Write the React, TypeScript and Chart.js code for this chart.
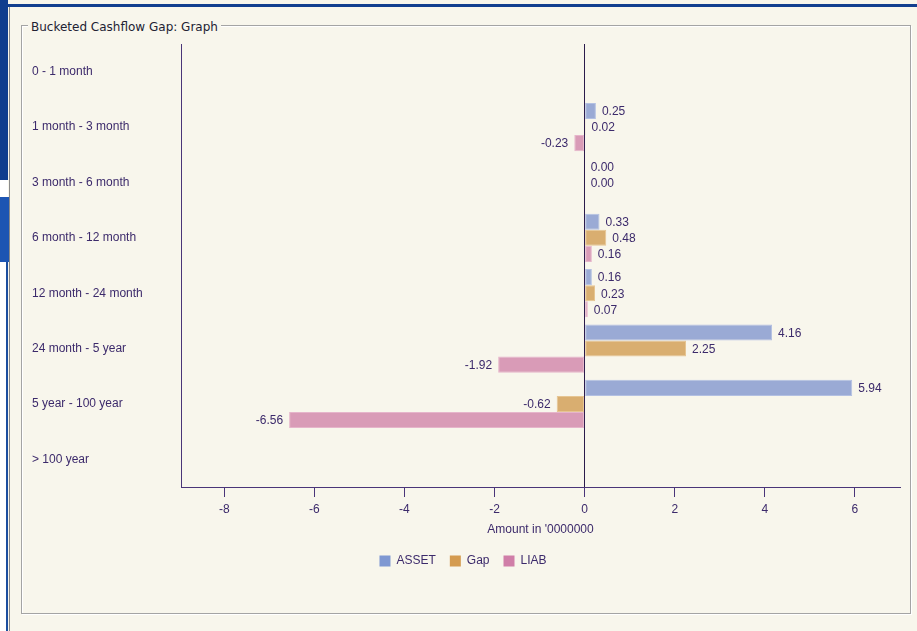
import React, { useEffect, useRef } from 'react';
import { Chart, registerables } from 'chart.js';

Chart.register(...registerables);

const categories = [
  '0 - 1 month',
  '1 month - 3 month',
  '3 month - 6 month',
  '6 month - 12 month',
  '12 month - 24 month',
  '24 month - 5 year',
  '5 year - 100 year',
  '> 100 year',
];
const assetValues: (number | null)[] = [null, 0.25, 0.0, 0.33, 0.16, 4.16, 5.94, null];
const gapValues: (number | null)[] = [null, 0.02, 0.0, 0.48, 0.23, 2.25, -0.62, null];
const liabValues: (number | null)[] = [null, -0.23, null, 0.16, 0.07, -1.92, -6.56, null];
const seriesNames = ['ASSET', 'Gap', 'LIAB'];
const xTickValues = [-8, -6, -4, -2, 0, 2, 4, 6];
const xAxisTitle = "Amount in '0000000";
const panelTitle = 'Bucketed Cashflow Gap: Graph';

const TEXT = '#3c2a6b';
const AXIS = '#4a3578';
const BAR_FILL = ['#9aaad5', '#d9ae70', '#d99bb7'];
const BAR_EDGE = ['#b3c0e2', '#e6c592', '#e6b5cb'];
const LEGEND_FILL = ['#7f98d2', '#d49b50', '#d07ea8'];
const FONT = '"Liberation Sans", Arial, sans-serif';

const valueLabels = {
  id: 'valueLabels',
  afterDatasetsDraw(chart: any) {
    const ctx = chart.ctx;
    ctx.save();
    ctx.font = `12px ${FONT}`;
    ctx.fillStyle = TEXT;
    ctx.textBaseline = 'middle';
    chart.data.datasets.forEach((ds: any, di: number) => {
      const meta = chart.getDatasetMeta(di);
      meta.data.forEach((bar: any, i: number) => {
        const v = ds.data[i];
        if (v === null || v === undefined) return;
        const { x, y } = bar.getProps(['x', 'y'], true);
        const txt = v.toFixed(2);
        if (v < 0) {
          ctx.textAlign = 'right';
          ctx.fillText(txt, x - 6, y + 1);
        } else {
          ctx.textAlign = 'left';
          ctx.fillText(txt, x + 6, y + 1);
        }
      });
    });
    ctx.restore();
  },
};

const legendShift = {
  id: 'legendShift',
  afterLayout(chart: any) {
    if (chart.legend) {
      chart.legend.left -= 3;
      chart.legend.right -= 3;
    }
  },
};

function BarChart() {
  const ref = useRef<HTMLCanvasElement | null>(null);
  useEffect(() => {
    if (!ref.current) return;
    const values = [assetValues, gapValues, liabValues];
    const chart = new Chart(ref.current, {
      type: 'bar',
      data: {
        labels: categories,
        datasets: seriesNames.map((name, i) => ({
          label: name,
          data: values[i],
          backgroundColor: BAR_FILL[i],
          borderColor: BAR_EDGE[i],
          borderWidth: 1,
          borderSkipped: false,
          barPercentage: 1,
          categoryPercentage: 0.87,
        })),
      },
      options: {
        indexAxis: 'y',
        animation: false,
        responsive: false,
        maintainAspectRatio: false,
        layout: { padding: { left: 10, right: 10, top: 14, bottom: 0 } },
        scales: {
          x: {
            type: 'linear',
            min: -8.96,
            max: 7,
            afterBuildTicks: (scale: any) => {
              scale.ticks = xTickValues.map((v) => ({ value: v }));
            },
            afterFit: (scale: any) => {
              scale.height = 54;
            },
            grid: {
              display: true,
              drawOnChartArea: true,
              drawTicks: true,
              tickLength: 10,
              color: (c: any) => (c.tick && c.tick.value === 0 ? '#2b1b4b' : 'rgba(0,0,0,0)'),
              tickColor: AXIS,
              lineWidth: 1,
            },
            border: { display: true, color: AXIS, width: 1 },
            ticks: {
              color: TEXT,
              font: { family: FONT, size: 12 },
              padding: 5,
              callback: (v: any) => String(v),
            },
            title: {
              display: true,
              text: xAxisTitle,
              color: TEXT,
              font: { family: FONT, size: 12 },
              padding: { top: 0, bottom: 4 },
            },
          },
          y: {
            type: 'category',
            offset: true,
            afterFit: (scale: any) => {
              scale.width = 149;
            },
            grid: { display: false, drawTicks: false },
            border: { display: true, color: AXIS, width: 1 },
            ticks: {
              color: TEXT,
              font: { family: FONT, size: 12 },
              crossAlign: 'far',
              padding: 0,
            },
          },
        },
        plugins: {
          legend: {
            display: true,
            position: 'bottom',
            labels: {
              boxWidth: 11,
              boxHeight: 11,
              padding: 14,
              color: TEXT,
              font: { family: FONT, size: 12 },
              generateLabels: (ch: any) =>
                ch.data.datasets.map((ds: any, i: number) => ({
                  text: ds.label,
                  fillStyle: LEGEND_FILL[i],
                  strokeStyle: LEGEND_FILL[i],
                  lineWidth: 0,
                  hidden: false,
                  datasetIndex: i,
                  fontColor: TEXT,
                })),
            },
          },
          tooltip: { enabled: false },
        },
      },
      plugins: [valueLabels, legendShift],
    } as any);
    return () => chart.destroy();
  }, []);
  return <canvas ref={ref} width={888} height={547} style={{ position: 'absolute', left: 22, top: 30, width: 888, height: 547 }} />;
}

export default function App() {
  return (
    <div style={{ position: 'fixed', left: 0, top: 0, width: 917, height: 631, background: '#f8f6ec', overflow: 'hidden' }}>
      {/* window frame bits */}
      <div style={{ position: 'absolute', left: 0, top: 4, width: 917, height: 3, background: '#123f8f' }} />
      <div style={{ position: 'absolute', left: 0, top: 0, width: 8, height: 180, background: '#0f3d8e' }} />
      <div style={{ position: 'absolute', left: 0, top: 180, width: 8, height: 17, background: '#ffffff' }} />
      <div style={{ position: 'absolute', left: 0, top: 197, width: 9, height: 65, background: '#1d55b3' }} />
      <div style={{ position: 'absolute', left: 0, top: 262, width: 8, height: 369, background: '#ffffff' }} />
      <div style={{ position: 'absolute', left: 6, top: 262, width: 2, height: 369, background: '#1c4e9e' }} />
      <div style={{ position: 'absolute', left: 9, top: 7, width: 1, height: 624, background: '#8a8a8a' }} />
      {/* fieldset box */}
      <div
        style={{
          position: 'absolute',
          left: 21,
          top: 25,
          width: 888,
          height: 587,
          border: '1px solid #a4a4a4',
          boxShadow: '1px 1px 0 #ffffff, inset 1px 1px 0 #ffffff',
        }}
      />
      <div
        style={{
          position: 'absolute',
          left: 28,
          top: 19,
          padding: '0 3px',
          background: '#f8f6ec',
          fontFamily: '"DejaVu Sans", Verdana, sans-serif',
          fontSize: 12,
          lineHeight: '17px',
          color: '#222233',
          whiteSpace: 'nowrap',
        }}
      >
        {panelTitle}
      </div>
      <BarChart />
    </div>
  );
}
